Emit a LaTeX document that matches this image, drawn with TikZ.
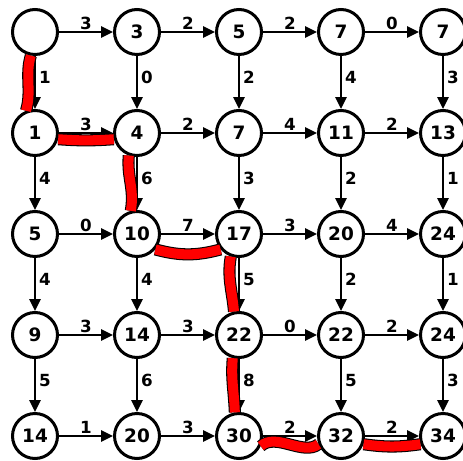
\documentclass[tikz,border=0pt]{standalone}
\usepackage{fontspec}
\setmainfont{DejaVu Sans}
\usetikzlibrary{arrows.meta}

\tikzset{
  state/.style = { draw, circle, line width=0.06cm, minimum size=0.9cm, inner sep=0pt,
                   font=\fontsize{10.5}{10.5}\selectfont\bfseries },
  edge/.style  = { line width=0.055cm, -{Triangle[length=0.24cm,width=0.22cm]} },
  hlab/.style  = { midway, above, inner sep=0.5pt, font=\fontsize{9.5}{9.5}\selectfont\bfseries },
  vlab/.style  = { pos=0.4, right, inner sep=1.5pt, font=\fontsize{9.5}{9.5}\selectfont\bfseries },
  best/.style  = { draw=black, line width=0.6pt, double=red, double distance=0.2cm }
}

\begin{document}
\begin{tikzpicture}[ x=0.02cm, y=0.02cm ]
        \useasboundingbox (0, 0) rectangle (463, 460);

        % grid of states
        \node [ state ] (n00) at ( 35, 428) {};
        \node [ state ] (n01) at (137, 428) {3};
        \node [ state ] (n02) at (239, 428) {5};
        \node [ state ] (n03) at (341, 428) {7};
        \node [ state ] (n04) at (443, 428) {7};

        \node [ state ] (n10) at ( 35, 327) {1};
        \node [ state ] (n11) at (137, 327) {4};
        \node [ state ] (n12) at (239, 327) {7};
        \node [ state ] (n13) at (341, 327) {11};
        \node [ state ] (n14) at (443, 327) {13};

        \node [ state ] (n20) at ( 35, 226) {5};
        \node [ state ] (n21) at (137, 226) {10};
        \node [ state ] (n22) at (239, 226) {17};
        \node [ state ] (n23) at (341, 226) {20};
        \node [ state ] (n24) at (443, 226) {24};

        \node [ state ] (n30) at ( 35, 125) {9};
        \node [ state ] (n31) at (137, 125) {14};
        \node [ state ] (n32) at (239, 125) {22};
        \node [ state ] (n33) at (341, 125) {22};
        \node [ state ] (n34) at (443, 125) {24};

        \node [ state ] (n40) at ( 35,  24) {14};
        \node [ state ] (n41) at (137,  24) {20};
        \node [ state ] (n42) at (239,  24) {30};
        \node [ state ] (n43) at (341,  24) {32};
        \node [ state ] (n44) at (443,  24) {34};

        % horizontal steps
        \draw [ edge ] (n00) -- (n01) node [ hlab ] {3};
        \draw [ edge ] (n01) -- (n02) node [ hlab ] {2};
        \draw [ edge ] (n02) -- (n03) node [ hlab ] {2};
        \draw [ edge ] (n03) -- (n04) node [ hlab ] {0};

        \draw [ edge ] (n10) -- (n11) node [ hlab ] {3};
        \draw [ edge ] (n11) -- (n12) node [ hlab ] {2};
        \draw [ edge ] (n12) -- (n13) node [ hlab ] {4};
        \draw [ edge ] (n13) -- (n14) node [ hlab ] {2};

        \draw [ edge ] (n20) -- (n21) node [ hlab ] {0};
        \draw [ edge ] (n21) -- (n22) node [ hlab ] {7};
        \draw [ edge ] (n22) -- (n23) node [ hlab ] {3};
        \draw [ edge ] (n23) -- (n24) node [ hlab ] {4};

        \draw [ edge ] (n30) -- (n31) node [ hlab ] {3};
        \draw [ edge ] (n31) -- (n32) node [ hlab ] {3};
        \draw [ edge ] (n32) -- (n33) node [ hlab ] {0};
        \draw [ edge ] (n33) -- (n34) node [ hlab ] {2};

        \draw [ edge ] (n40) -- (n41) node [ hlab ] {1};
        \draw [ edge ] (n41) -- (n42) node [ hlab ] {3};
        \draw [ edge ] (n42) -- (n43) node [ hlab ] {2};
        \draw [ edge ] (n43) -- (n44) node [ hlab ] {2};

        % vertical steps
        \draw [ edge ] (n00) -- (n10) node [ vlab ] {1};
        \draw [ edge ] (n01) -- (n11) node [ vlab ] {0};
        \draw [ edge ] (n02) -- (n12) node [ vlab ] {2};
        \draw [ edge ] (n03) -- (n13) node [ vlab ] {4};
        \draw [ edge ] (n04) -- (n14) node [ vlab ] {3};

        \draw [ edge ] (n10) -- (n20) node [ vlab ] {4};
        \draw [ edge ] (n11) -- (n21) node [ vlab ] {6};
        \draw [ edge ] (n12) -- (n22) node [ vlab ] {3};
        \draw [ edge ] (n13) -- (n23) node [ vlab ] {2};
        \draw [ edge ] (n14) -- (n24) node [ vlab ] {1};

        \draw [ edge ] (n20) -- (n30) node [ vlab ] {4};
        \draw [ edge ] (n21) -- (n31) node [ vlab ] {4};
        \draw [ edge ] (n22) -- (n32) node [ vlab ] {5};
        \draw [ edge ] (n23) -- (n33) node [ vlab ] {2};
        \draw [ edge ] (n24) -- (n34) node [ vlab ] {1};

        \draw [ edge ] (n30) -- (n40) node [ vlab ] {5};
        \draw [ edge ] (n31) -- (n41) node [ vlab ] {6};
        \draw [ edge ] (n32) -- (n42) node [ vlab ] {8};
        \draw [ edge ] (n33) -- (n43) node [ vlab ] {5};
        \draw [ edge ] (n34) -- (n44) node [ vlab ] {3};

        % best path
        \draw [ best ] (n00.-100) .. controls +(-6, -20) and +(6, 20) .. (n10.112);
        \draw [ best ] (n10.-15) to [ bend right=4 ] (n11.195);
        \draw [ best ] (n11.-110) .. controls +(-2, -22) and +(4, 22) .. (n21.105);
        \draw [ best ] (n21.-40) to [ bend right=15 ] (n22.-140);
        \draw [ best ] (n22.-110) to [ out=-100, in=95 ] (n32.102);
        \draw [ best ] (n32.-105) to [ out=-95, in=92 ] (n42.100);
        \draw [ best ] (n42.-25) .. controls +(15, 14) and +(-15, -12) .. (n43.-160);
        \draw [ best ] (n43.-20) to [ bend right=8 ] (n44.-160);
      \end{tikzpicture}
\end{document}
